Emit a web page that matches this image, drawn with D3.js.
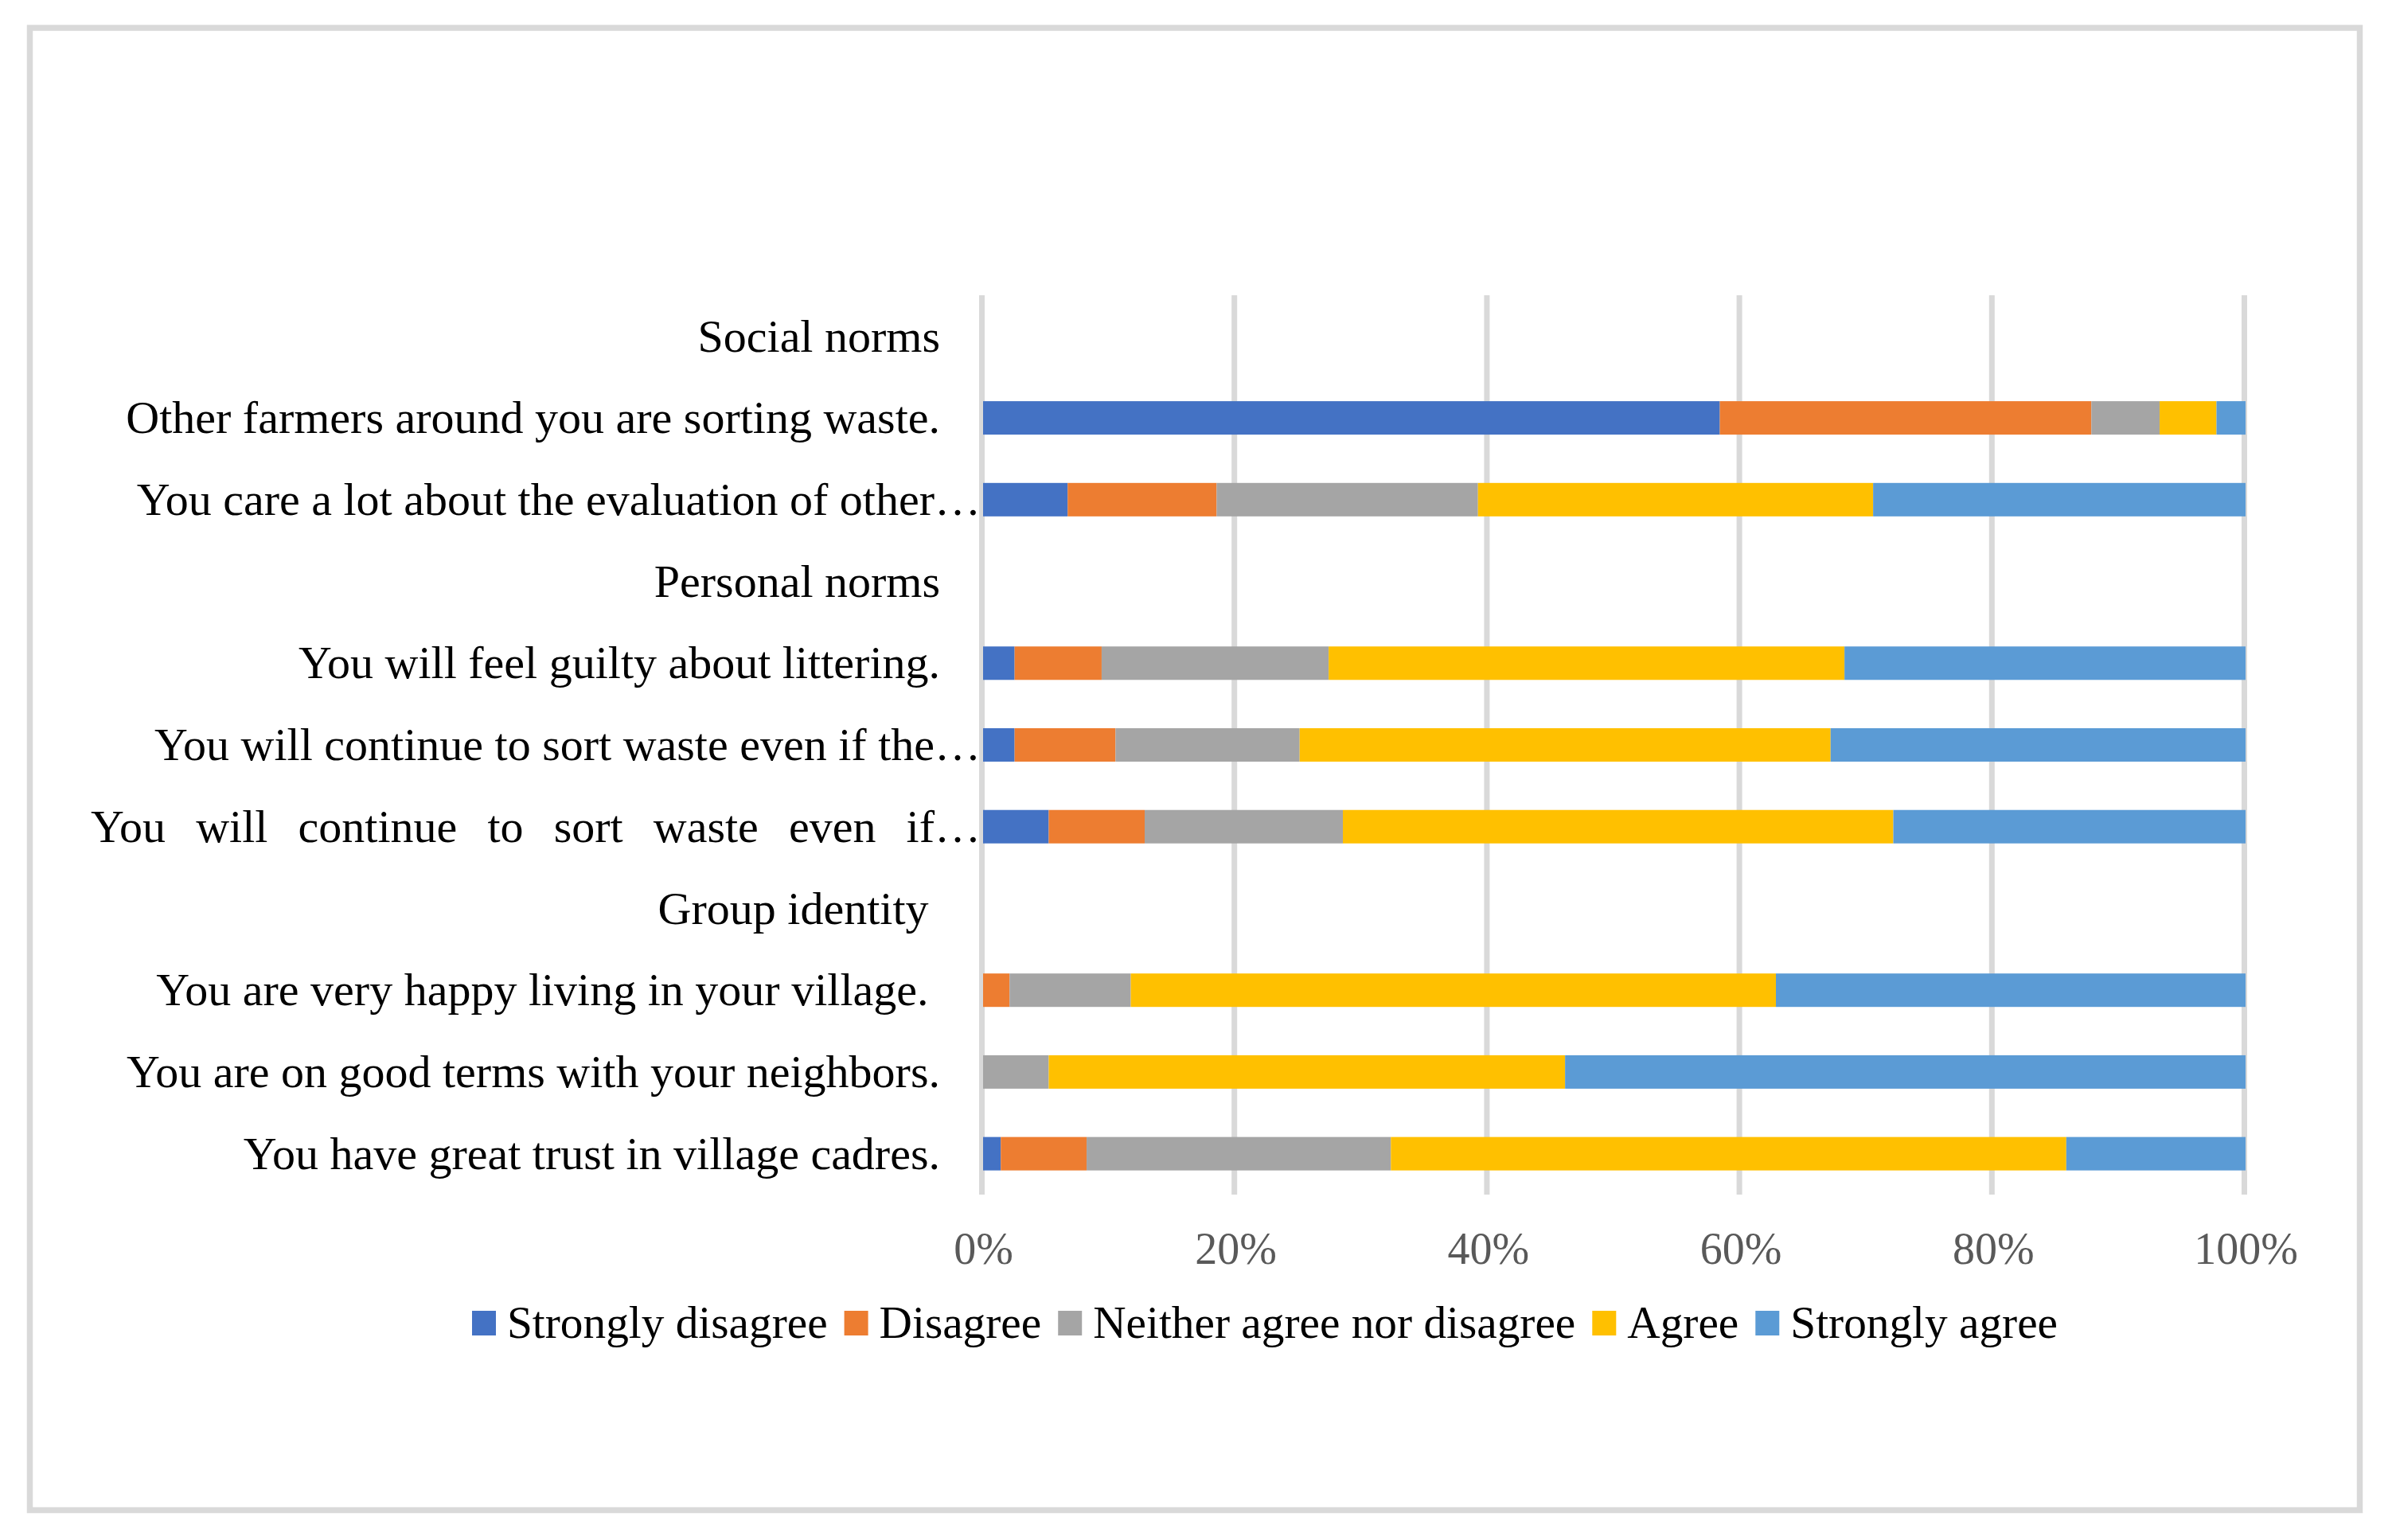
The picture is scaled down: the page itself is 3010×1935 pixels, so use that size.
<!DOCTYPE html>
<html>
<head>
<meta charset="utf-8">
<script src="https://cdn.jsdelivr.net/npm/d3@7"></script>
<style>
  html, body { margin: 0; padding: 0; background: #fff; }
  svg { display: block; }
  text { font-family: "Liberation Serif", "Times New Roman", serif; }
</style>
</head>
<body>
<svg id="chart" width="3010" height="1935"></svg>
<script>
// ---- data ----
const categories = [
  "Social norms",
  "Other farmers around you are sorting waste.",
  "You care a lot about the evaluation of other…",
  "Personal norms",
  "You will feel guilty about littering.",
  "You will continue to sort waste even if the…",
  "You will continue to sort waste even if…",
  "Group identity ",
  "You are very happy living in your village. ",
  "You are on good terms with your neighbors.",
  "You have great trust in village cadres."
];
const seriesNames = ["Strongly disagree", "Disagree", "Neither agree nor disagree", "Agree", "Strongly agree"];
const stronglyDisagree = [0, 58.3, 6.7, 0, 2.5, 2.5, 5.2, 0, 0, 0, 1.4];
const disagree         = [0, 29.4, 11.8, 0, 6.9, 8.0, 7.6, 0, 2.1, 0, 6.8];
const neither          = [0, 5.4, 20.7, 0, 18.0, 14.6, 15.7, 0, 9.6, 5.2, 24.1];
const agree            = [0, 4.5, 31.3, 0, 40.9, 42.1, 43.6, 0, 51.1, 40.9, 53.5];
const stronglyAgree    = [0, 2.3, 29.5, 0, 31.8, 32.9, 27.9, 0, 37.2, 53.9, 14.2];
const tickValues = [0, 0.2, 0.4, 0.6, 0.8, 1.0];
const colors = ["#4472C4", "#ED7D31", "#A5A5A5", "#FFC000", "#5B9BD5"];

// ---- build table ----
const seriesValues = [stronglyDisagree, disagree, neither, agree, stronglyAgree];
const table = categories.map((c, i) => {
  const row = { category: c };
  seriesNames.forEach((s, k) => row[s] = seriesValues[k][i]);
  return row;
});
const stacked = d3.stack().keys(seriesNames).offset(d3.stackOffsetExpand)(table);

const svg = d3.select("#chart");

// outer border
svg.append("rect")
  .attr("x", 37.5).attr("y", 35).attr("width", 2927).attr("height", 1862.5)
  .attr("fill", "#fff").attr("stroke", "#D9D9D9").attr("stroke-width", 7.5);

const x = d3.scaleLinear().domain([0, 1]).range([1235, 2821]);
const y = d3.scaleBand().domain(categories).range([371, 1501])
  .paddingInner(0.591).paddingOuter(0.2955);

// gridlines
svg.append("g").selectAll("line").data(tickValues).join("line")
  .attr("x1", d => x(d) - 1.5).attr("x2", d => x(d) - 1.5)
  .attr("y1", 371).attr("y2", 1501)
  .attr("stroke", "#D9D9D9").attr("stroke-width", 7);

// bars
svg.append("g").selectAll("g").data(stacked).join("g")
  .attr("fill", (d, i) => colors[i])
  .selectAll("rect").data(d => d).join("rect")
  .attr("x", d => x(isNaN(d[0]) ? 0 : d[0]))
  .attr("width", d => (isNaN(d[1]) ? 0 : Math.max(0, x(d[1]) - x(d[0]))))
  .attr("y", d => y(d.data.category))
  .attr("height", y.bandwidth());

// x axis tick labels
const xAxis = d3.axisBottom(x).tickValues(tickValues)
  .tickFormat(d3.format(".0%")).tickSize(0).tickPadding(0);
const gx = svg.append("g").attr("transform", "translate(0,1588)").call(xAxis);
gx.select(".domain").remove();
gx.selectAll("text")
  .attr("dy", 0).attr("y", 0)
  .attr("fill", "#595959")
  .style("font-size", "56px")
  .style("font-family", "'Liberation Serif', 'Times New Roman', serif");

// category labels
const labels = svg.append("g").selectAll("text").data(categories).join("text")
  .attr("x", d => d.endsWith("…") ? 1232 : 1181)
  .attr("y", d => y(d) + y.bandwidth() / 2)
  .attr("dy", "0.33em")
  .attr("text-anchor", "end")
  .attr("fill", "#000")
  .style("font-size", "58px")
  .style("white-space", "pre")
  .text(d => d);

// justified label (spread words to fill label area)
labels.filter(d => d === "You will continue to sort waste even if…").each(function(d) {
  const w = this.getComputedTextLength();
  const target = 1232 - 114;
  const spaces = (d.match(/ /g) || []).length;
  if (w < target && spaces > 0) d3.select(this).style("word-spacing", ((target - w) / spaces) + "px");
});

// legend
const legend = svg.append("g").attr("transform", "translate(593,1647)");
let lx = 0;
seriesNames.forEach((name, i) => {
  const g = legend.append("g").attr("transform", `translate(${lx},0)`);
  g.append("rect").attr("x", 0).attr("y", 0).attr("width", 30).attr("height", 31).attr("fill", colors[i]);
  const t = g.append("text").attr("x", 44).attr("y", 34)
    .attr("fill", "#000").style("font-size", "57.3px").text(name);
  lx += 44 + t.node().getComputedTextLength() + 21;
});
</script>
</body>
</html>
